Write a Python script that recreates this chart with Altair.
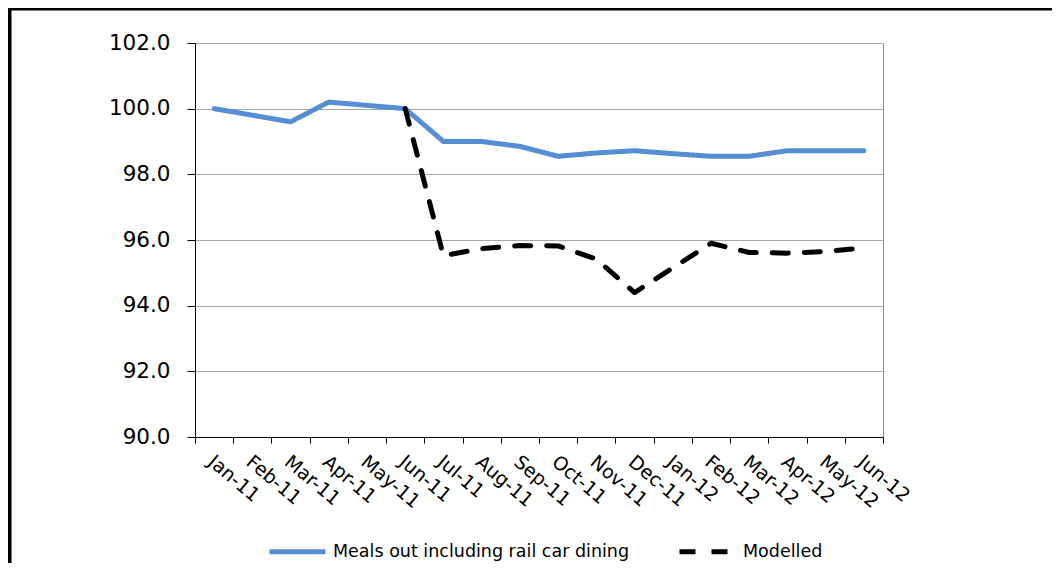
import json
import altair as alt
import pandas as pd

months = ["Jan-11", "Feb-11", "Mar-11", "Apr-11", "May-11", "Jun-11", "Jul-11", "Aug-11",
          "Sep-11", "Oct-11", "Nov-11", "Dec-11", "Jan-12", "Feb-12", "Mar-12", "Apr-12",
          "May-12", "Jun-12"]
meals_out = [100.0, 99.8, 99.6, 100.2, 100.1, 100.0, 99.0, 99.0, 98.85, 98.55, 98.65, 98.72,
             98.63, 98.55, 98.55, 98.72, 98.72, 98.72]
modelled = [None, None, None, None, None, 100.0, 95.52, 95.74, 95.83, 95.82, 95.42, 94.4,
            95.15, 95.9, 95.62, 95.6, 95.65, 95.76]
series_names = ["Meals out including rail car dining", "Modelled"]
y_ticks = [90, 92, 94, 96, 98, 100, 102]

rows = []
for i, m in enumerate(months):
    rows.append({"idx": i, "month": m, "value": meals_out[i], "series": series_names[0]})
for i, m in enumerate(months):
    if modelled[i] is not None:
        rows.append({"idx": i, "month": m, "value": modelled[i], "series": series_names[1]})
df = pd.DataFrame(rows)

FONT = "DejaVu Sans"
label_expr = json.dumps(months) + "[round(datum.value + 0.5)] || ''"

legend_cfg = dict(title=None, orient="none", legendX=72, legendY=478,
                  direction="horizontal", symbolType="stroke",
                  symbolSize=3136, symbolStrokeWidth=5,
                  labelFont=FONT, labelFontSize=17.5, labelColor="#000",
                  labelLimit=0, labelOffset=5, columnPadding=39, padding=0)

lines = alt.Chart(df).mark_line(strokeWidth=5, strokeCap="round", strokeJoin="round").encode(
    x=alt.X("idx:Q",
            scale=alt.Scale(domain=[-0.5, len(months) - 0.5], nice=False, zero=False),
            axis=alt.Axis(values=[k - 0.5 for k in range(len(months) + 1)],
                          labelExpr=label_expr, title=None, grid=False,
                          labelAngle=40, labelAlign="left", labelBaseline="top",
                          labelOffset=21, labelPadding=9, labelOverlap=False,
                          labelFlush=False, labelBound=False,
                          labelFont=FONT, labelFontSize=19, labelColor="#000",
                          tickSize=6, tickColor="#000", domainColor="#000")),
    y=alt.Y("value:Q",
            scale=alt.Scale(domain=[90, 102], nice=False, zero=False),
            axis=alt.Axis(values=y_ticks, format=".1f", title=None, grid=True,
                          gridColor="#a6a6a6", labelFont=FONT, labelFontSize=21.5,
                          labelColor="#000", labelPadding=17, tickSize=8,
                          tickColor="#000", domainColor="#000")),
    color=alt.Color("series:N",
                    scale=alt.Scale(domain=series_names, range=["#558ED5", "#000000"]),
                    legend=alt.Legend(**legend_cfg)),
    strokeDash=alt.StrokeDash("series:N",
                              scale=alt.Scale(domain=series_names, range=[[1, 0], [16, 16]]),
                              legend=alt.Legend(**legend_cfg)),
    order="idx:Q",
)

frame_src = alt.Data(values=[{}])
top_border = alt.Chart(frame_src).mark_rule(color="#000", strokeWidth=4).encode(
    x=alt.value(-190), x2=alt.value(870), y=alt.value(-34.5))
left_border = alt.Chart(frame_src).mark_rule(color="#000", strokeWidth=4).encode(
    x=alt.value(-185.5), y=alt.value(-37), y2=alt.value(530))

chart = alt.layer(lines, top_border, left_border).properties(
    width=688, height=394,
    autosize=alt.AutoSizeParams(type="none"),
    padding={"left": 187, "top": 35, "right": 169, "bottom": 126},
    background="#ffffff",
).configure_view(stroke="#8c8c8c", strokeWidth=1)

chart.save("out.html", embed_options={"renderer": "svg", "actions": False})
